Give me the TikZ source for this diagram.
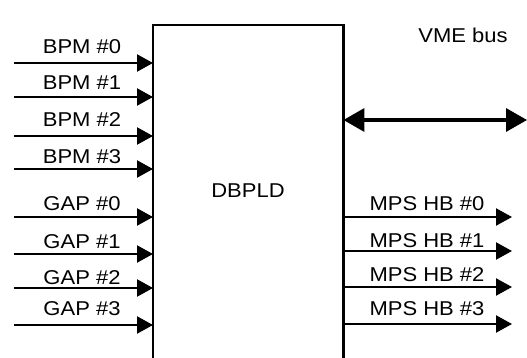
\documentclass[tikz,border=0pt]{standalone}
\usepackage{fontspec}
\setmainfont[FakeStretch=1.1]{Liberation Sans}
\usetikzlibrary{arrows.meta,positioning,calc}

\begin{document}
\begin{tikzpicture}[x=1pt,y=1pt,font=\fontsize{20}{24}\selectfont,
  sig/.style={line width=2.2pt,-{Triangle[length=16pt,width=17pt]}},
  bus/.style={line width=3.4pt,{Triangle[length=21pt,width=23pt]}-{Triangle[length=21pt,width=23pt]}},
  lbl/.style={inner sep=0pt,anchor=base}]
  \useasboundingbox (0,0) rectangle (527,-358);
  % DBPLD block, open at the bottom
  \node[minimum width=190pt,minimum height=340pt,anchor=north west,inner sep=0pt] (dbpld) at (153,-25) {};
  \draw[line width=2.2pt] (dbpld.south west) |- (dbpld.north east) -- (dbpld.south east);
  \node (title) at (248,-191) {DBPLD};
  % inputs: name/arrow y/label base y/text
  \foreach \n/\y/\b/\t in {b0/63/54/BPM \#0, b1/97/90/BPM \#1, b2/136/127/BPM \#2, b3/169/164/BPM \#3,
                           g0/217/210/GAP \#0, g1/254/248/GAP \#1, g2/288/284/GAP \#2, g3/325/315/GAP \#3}{
    \coordinate (\n) at (14,-\y);
    \draw[sig] (\n) -- (\n -| dbpld.west);
    \node[lbl] (l\n) at (82,-\b) {\t};
  }
  % outputs
  \foreach \n/\y/\b/\t in {m0/217/210/MPS HB \#0, m1/251/247/MPS HB \#1, m2/287/281/MPS HB \#2, m3/324/315/MPS HB \#3}{
    \coordinate (\n) at (512,-\y);
    \draw[sig] (\n -| dbpld.east) -- (\n);
    \node[lbl] (l\n) at (427,-\b) {\t};
  }
  % VME bus
  \coordinate (vme) at (527,-120);
  \draw[bus] (vme -| dbpld.east) -- (vme);
  \node (lvme) at (463,-35) {VME bus};
\end{tikzpicture}
\end{document}
